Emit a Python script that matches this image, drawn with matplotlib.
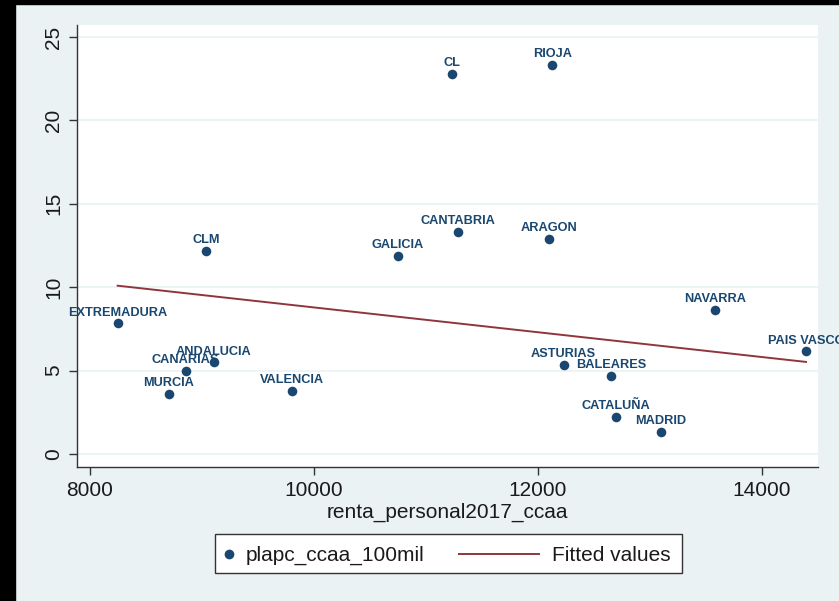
import numpy as np
import matplotlib
matplotlib.use("Agg")
from matplotlib import pyplot as plt
from matplotlib.lines import Line2D
from matplotlib.patches import Rectangle

regions = ["EXTREMADURA", "CANARIAS", "ANDALUCIA", "MURCIA", "VALENCIA", "CLM",
           "GALICIA", "CANTABRIA", "CL", "RIOJA", "ARAGON", "NAVARRA",
           "PAIS VASCO", "ASTURIAS", "BALEARES", "CATALUÑA", "MADRID"]
renta = [8247, 8854, 9107, 8702, 9801, 9036,
         10747, 11283, 11229, 12128, 12095, 13580,
         14393, 12229, 12652, 12699, 13095]
plapc = [7.84, 4.98, 5.50, 3.60, 3.78, 12.17,
         11.89, 13.33, 22.80, 23.32, 12.91, 8.65,
         6.16, 5.34, 4.70, 2.24, 1.34]

# fitted values (endpoints of the lfit line)
fit_x = [8247, 14393]
fit_y = [10.09, 5.52]

navy = "#1a476f"
maroon = "#90353b"
bg = "#eaf2f3"

plt.rcParams["font.family"] = ["Liberation Sans", "DejaVu Sans"]

W, H = 839, 601
fig = plt.figure(figsize=(W / 100, H / 100), dpi=100)
fig.patch.set_facecolor(bg)
# black border strips (left and top)
fig.patches.append(Rectangle((0, 0), 15 / W, 1, transform=fig.transFigure,
                             color="black", zorder=0))
fig.patches.append(Rectangle((0, 1 - 4 / H), 1, 4 / H, transform=fig.transFigure,
                             color="black", zorder=0))

ax = fig.add_axes([77 / W, 1 - 467 / H, 741 / W, 442 / H])
ax.set_facecolor("white")

ax.plot(fit_x, fit_y, color=maroon, lw=1.4, zorder=2)

ax.scatter(renta, plapc, s=48, color=navy, zorder=3, linewidths=0)
for name, xi, yi in zip(regions, renta, plapc):
    ax.annotate(name, (xi, yi), xytext=(0, 5.5), textcoords="offset points",
                ha="center", va="baseline", fontsize=9.2, fontweight="bold",
                color=navy, zorder=4, annotation_clip=False)

ax.set_xlim(7884, 14500)
ax.set_ylim(-0.78, 25.72)
ax.set_xticks([8000, 10000, 12000, 14000])
ax.set_yticks([0, 5, 10, 15, 20, 25])
ax.set_yticklabels(["0", "5", "10", "15", "20", "25"], rotation=90, va="center")
ax.grid(axis="y", color=bg, lw=1.2)
ax.set_axisbelow(True)

for s in ["top", "right"]:
    ax.spines[s].set_visible(False)
for s in ["left", "bottom"]:
    ax.spines[s].set_color("#333333")
    ax.spines[s].set_linewidth(1.0)
ax.tick_params(direction="out", length=6, width=1, color="#333333",
               labelsize=15, labelcolor="#1a1a1a", pad=4)

ax.set_xlabel("renta_personal2017_ccaa", fontsize=15, color="#1a1a1a", labelpad=2)


# legend drawn by hand, in figure pixels (Stata style)
def fx(px):
    return px / W


def fy(py):
    return 1 - py / H


ly = 553.5
fig.patches.append(Rectangle((fx(215), fy(573)), (682 - 215) / W, 39 / H,
                             transform=fig.transFigure, facecolor="white",
                             edgecolor="#333333", lw=1.0, zorder=5))
fig.lines.append(Line2D([fx(229)], [fy(ly)], marker="o", ls="none", color=navy,
                        markersize=7, markeredgewidth=0,
                        transform=fig.transFigure, zorder=6))
fig.text(fx(246), fy(ly), "plapc_ccaa_100mil", fontsize=15, color="#1a1a1a",
         ha="left", va="center_baseline", zorder=6)
fig.lines.append(Line2D([fx(459), fx(539)], [fy(ly), fy(ly)], color=maroon,
                        lw=1.4, transform=fig.transFigure, zorder=6))
fig.text(fx(552), fy(ly), "Fitted values", fontsize=15, color="#1a1a1a",
         ha="left", va="center_baseline", zorder=6)

fig.savefig("out.png", dpi=100, facecolor=fig.get_facecolor())
